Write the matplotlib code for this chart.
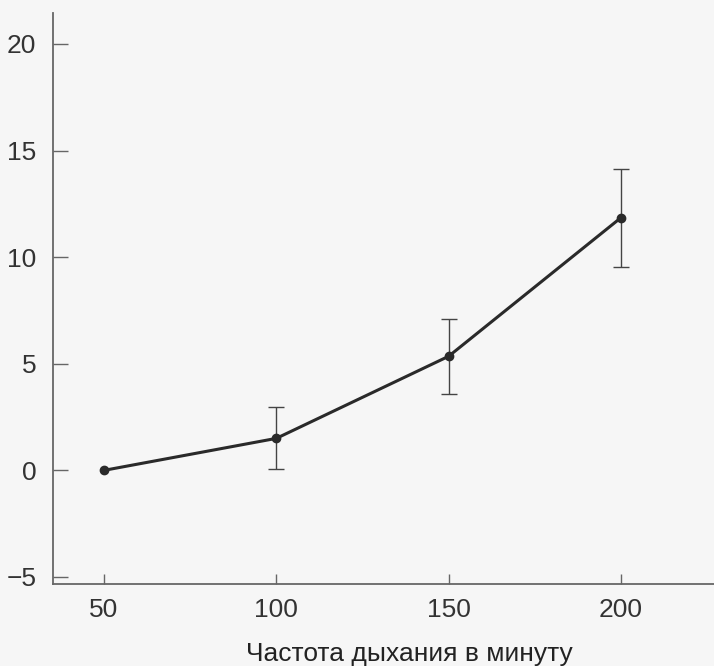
import matplotlib
matplotlib.use("Agg")
import matplotlib.pyplot as plt

rate = [50, 100, 150, 200]
value = [0.0, 1.5, 5.35, 11.85]
err = [float('nan'), 1.45, 1.75, 2.3]
xticks = [50, 100, 150, 200]
yticks = [-5, 0, 5, 10, 15, 20]
xlabel = "Частота дыхания в минуту"

plt.rcParams['font.family'] = ['Liberation Sans', 'DejaVu Sans']

fig = plt.figure(figsize=(7.14, 6.66), dpi=100, facecolor='#f6f6f6')
ax = fig.add_axes([0.0742, 0.1231, 0.9258, 0.8574])
ax.set_facecolor('#f6f6f6')

ax.errorbar(rate, value, yerr=err, color='#2a2a2a', lw=2.2, marker='o', ms=6,
            ecolor='#444444', elinewidth=1.0, capsize=6, capthick=1.0)

ax.set_xlim(35.2, 227)
ax.set_ylim(-5.33, 21.45)
ax.set_xticks(xticks)
ax.set_yticks(yticks)
for s in ['top', 'right']:
    ax.spines[s].set_visible(False)
for s in ['left', 'bottom']:
    ax.spines[s].set_color('#666666')
    ax.spines[s].set_linewidth(1.3)
ax.tick_params(axis='y', direction='in', length=11, width=1.0, color='#666666',
               labelsize=19, pad=12, labelcolor='#333333')
ax.tick_params(axis='x', direction='in', length=7, width=1.0, color='#666666',
               labelsize=19, pad=10, labelcolor='#333333')
ax.set_xlabel(xlabel, fontsize=19, color='#222222')
ax.xaxis.set_label_coords(0.539, -0.102)

fig.savefig("out.png", dpi=100, facecolor=fig.get_facecolor())
